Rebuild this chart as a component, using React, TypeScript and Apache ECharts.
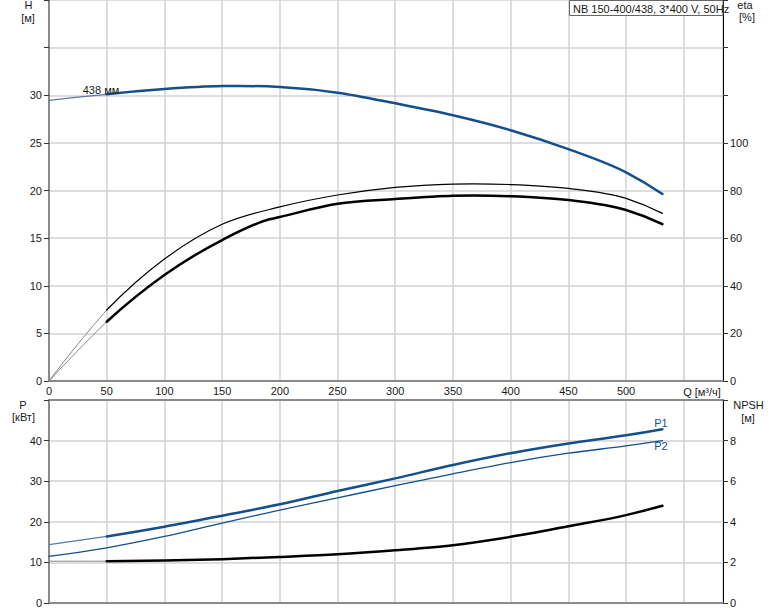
import React, { useEffect, useRef } from "react";
import * as echarts from "echarts";

// ---- data ----
const Q_START = [0, 25, 50];
const H_START = [29.47, 29.8, 30.1];
const Q_MAIN = [50, 100, 150, 200, 250, 300, 350, 400, 450, 500, 531.5];
const H_MAIN = [30.1, 30.65, 30.96, 30.86, 30.27, 29.15, 27.9, 26.33, 24.34, 21.9, 19.63];

const ETA_THIN_START = [0, 15.5, 29.8];
const ETA_THIN_MAIN = [29.8, 51.2, 65.8, 73.1, 78.1, 81.3, 82.7, 82.5, 80.9, 76.7, 70.4];
const ETA_THICK_START = [0, 12.8, 24.9];
const Q_ETA_THICK = [50, 100, 150, 191, 200, 250, 300, 350, 400, 450, 500, 531.5];
const ETA_THICK_MAIN = [24.9, 44.5, 59.2, 67.9, 68.9, 74.4, 76.4, 77.8, 77.6, 76, 71.8, 65.9];

const Q_P = [0, 50, 100, 150, 200, 250, 300, 350, 400, 450, 500, 531.5];
const P1 = [14.4, 16.4, 18.8, 21.5, 24.3, 27.6, 30.7, 34.0, 36.9, 39.3, 41.3, 42.8];
const P2 = [11.5, 13.6, 16.4, 19.7, 22.9, 25.9, 28.9, 31.8, 34.6, 36.9, 38.7, 40.0];
const NPSH_START = [2.06, 2.06, 2.06];
const NPSH_MAIN = [2.06, 2.09, 2.16, 2.27, 2.4, 2.6, 2.85, 3.26, 3.78, 4.33, 4.79];

const TITLE = "NB 150-400/438, 3*400 V, 50Hz";

const BLUE = "#134f8c";
const GRID = "#d2d2d2";
const AXIS_GRAY = "#8a8a8a";
const TXT = "#1a1a1a";
const FONT = "Liberation Sans, Arial, sans-serif";

// Cubic Hermite path through pixel points (slopes from 3-point parabolas)
function splinePath(pts: number[][]): string {
  const n = pts.length;
  if (n < 2) return "";
  const h: number[] = [];
  const d: number[] = [];
  for (let i = 0; i < n - 1; i++) {
    h.push(pts[i + 1][0] - pts[i][0]);
    d.push((pts[i + 1][1] - pts[i][1]) / (pts[i + 1][0] - pts[i][0]));
  }
  const m: number[] = new Array(n);
  if (n === 2) {
    m[0] = d[0];
    m[1] = d[0];
  } else {
    for (let i = 1; i < n - 1; i++) {
      m[i] = (d[i - 1] * h[i] + d[i] * h[i - 1]) / (h[i - 1] + h[i]);
    }
    m[0] = d[0] + ((d[0] - d[1]) * h[0]) / (h[0] + h[1]);
    m[n - 1] = d[n - 2] + ((d[n - 2] - d[n - 3]) * h[n - 2]) / (h[n - 2] + h[n - 3]);
  }
  let s = `M${pts[0][0]},${pts[0][1]}`;
  for (let i = 0; i < n - 1; i++) {
    const [x0, y0] = pts[i];
    const [x1, y1] = pts[i + 1];
    const dx = (x1 - x0) / 3;
    s += ` C${x0 + dx},${y0 + m[i] * dx} ${x1 - dx},${y1 - m[i + 1] * dx} ${x1},${y1}`;
  }
  return s;
}

export default function App() {
  const ref = useRef<HTMLDivElement>(null);
  useEffect(() => {
    if (!ref.current) return;
    const chart = echarts.init(ref.current, undefined, { renderer: "svg" });
    const lbl = { fontSize: 11, color: TXT, fontFamily: FONT };
    const xBase = (gi: number, showLabel: boolean) => ({
      type: "value",
      gridIndex: gi,
      min: 0,
      max: 584,
      interval: 50,
      axisLine: { show: true, onZero: false, lineStyle: { color: AXIS_GRAY, width: 2 } },
      axisTick: { show: false },
      axisLabel: {
        show: showLabel,
        ...lbl,
        margin: 4,
        formatter: (v: number) => (v <= 500 ? String(v) : ""),
      },
      splitLine: { show: true, lineStyle: { color: GRID, width: 1.5 } },
    });
    const yLeft = (gi: number, max: number, interval: number, lim: number) => ({
      type: "value",
      gridIndex: gi,
      position: "left",
      min: 0,
      max,
      interval,
      axisLine: { show: true, onZero: false, lineStyle: { color: AXIS_GRAY, width: 2 } },
      axisTick: { show: true, length: 5, lineStyle: { color: "#333" } },
      axisLabel: { ...lbl, margin: 7, formatter: (v: number) => (v <= lim ? String(v) : "") },
      splitLine: { show: true, lineStyle: { color: GRID, width: 1.5 } },
    });
    const yRight = (gi: number, max: number, interval: number, lim: number) => ({
      type: "value",
      gridIndex: gi,
      position: "right",
      min: 0,
      max,
      interval,
      axisLine: { show: true, onZero: false, lineStyle: { color: "#000", width: 1 } },
      axisTick: { show: true, length: 5, lineStyle: { color: "#333" } },
      axisLabel: { ...lbl, margin: 7, formatter: (v: number) => (v <= lim ? String(v) : "") },
      splitLine: { show: false },
    });
    const curve = (
      xs: number[],
      ys: number[],
      xi: number,
      yi: number,
      color: string,
      width: number
    ) => ({
      type: "custom",
      coordinateSystem: "cartesian2d",
      xAxisIndex: xi,
      yAxisIndex: yi,
      data: xs.map((x, i) => [x, ys[i]]),
      encode: { x: 0, y: 1 },
      silent: true,
      renderItem: (params: any, api: any) => {
        if (params.dataIndex !== 0) return { type: "group", children: [] };
        const pts = xs.map((x, i) => api.coord([x, ys[i]]));
        return {
          type: "path",
          shape: { pathData: splinePath(pts) },
          style: { fill: "none", stroke: color, lineWidth: width, lineCap: "round", lineJoin: "round" },
          silent: true,
        };
      },
    });

    chart.setOption({
      animation: false,
      textStyle: { fontFamily: FONT },
      grid: [
        { left: 49, right: 51, top: 0, height: 381 },
        { left: 49, right: 51, top: 400, height: 203 },
      ],
      xAxis: [
        xBase(0, true),
        xBase(1, false),
        {
          type: "value",
          gridIndex: 1,
          position: "top",
          min: 0,
          max: 584,
          axisLine: { show: true, onZero: false, lineStyle: { color: AXIS_GRAY, width: 2 } },
          axisTick: { show: false },
          axisLabel: { show: false },
          splitLine: { show: false },
        },
      ],
      yAxis: [
        yLeft(0, 40, 5, 30),
        yRight(0, 160, 20, 100),
        yLeft(1, 50, 10, 40),
        yRight(1, 10, 2, 8),
      ],
      series: [
        curve(Q_START, ETA_THIN_START, 0, 1, "#888", 1),
        curve(Q_MAIN, ETA_THIN_MAIN, 0, 1, "#000", 1.2),
        curve(Q_START, ETA_THICK_START, 0, 1, "#888", 1),
        curve(Q_ETA_THICK, ETA_THICK_MAIN, 0, 1, "#000", 2.5),
        curve(Q_START, H_START, 0, 0, "#5a7aa0", 1.2),
        curve(Q_MAIN, H_MAIN, 0, 0, BLUE, 2.5),
        curve(Q_START, NPSH_START, 1, 3, "#888", 1),
        curve(Q_MAIN, NPSH_MAIN, 1, 3, "#000", 2.5),
        curve(Q_P, P2, 1, 2, BLUE, 1.3),
        curve(Q_P.slice(0, 2), P1.slice(0, 2), 1, 2, "#5a7aa0", 1.2),
        curve(Q_P.slice(1), P1.slice(1), 1, 2, BLUE, 2.5),
      ],
      graphic: [
        {
          type: "rect",
          shape: { x: 569.5, y: 0.5, width: 153.5, height: 15 },
          style: { fill: "#fff", stroke: "#666", lineWidth: 1 },
          z: 100,
        },
        {
          type: "text",
          x: 573,
          y: 8.5,
          style: { text: TITLE, fontSize: 11, fill: TXT, fontFamily: FONT, verticalAlign: "middle" },
          z: 101,
        },
        { type: "text", x: 28.5, y: 5, style: { text: "H", fontSize: 11, fill: TXT, fontFamily: FONT, align: "center", verticalAlign: "middle" } },
        { type: "text", x: 28, y: 17.5, style: { text: "[м]", fontSize: 11, fill: TXT, fontFamily: FONT, align: "center", verticalAlign: "middle" } },
        { type: "text", x: 745, y: 5, style: { text: "eta", fontSize: 11, fill: TXT, fontFamily: FONT, align: "center", verticalAlign: "middle" } },
        { type: "text", x: 747, y: 17, style: { text: "[%]", fontSize: 11, fill: TXT, fontFamily: FONT, align: "center", verticalAlign: "middle" } },
        { type: "text", x: 702, y: 391.5, style: { text: "Q [м³/ч]", fontSize: 11, fill: TXT, fontFamily: FONT, align: "center", verticalAlign: "middle" } },
        { type: "text", x: 23, y: 405, style: { text: "P", fontSize: 11, fill: TXT, fontFamily: FONT, align: "center", verticalAlign: "middle" } },
        { type: "text", x: 23.5, y: 417, style: { text: "[кВт]", fontSize: 11, fill: TXT, fontFamily: FONT, align: "center", verticalAlign: "middle" } },
        { type: "text", x: 748.5, y: 405, style: { text: "NPSH", fontSize: 11, fill: TXT, fontFamily: FONT, align: "center", verticalAlign: "middle" } },
        { type: "text", x: 748, y: 417.5, style: { text: "[м]", fontSize: 11, fill: TXT, fontFamily: FONT, align: "center", verticalAlign: "middle" } },
        { type: "text", x: 101, y: 89.5, style: { text: "438 мм", fontSize: 11, fill: TXT, fontFamily: FONT, align: "center", verticalAlign: "middle" }, z: 50 },
        { type: "text", x: 661, y: 422.5, style: { text: "P1", fontSize: 11, fill: BLUE, fontFamily: FONT, align: "center", verticalAlign: "middle" } },
        { type: "text", x: 661, y: 446, style: { text: "P2", fontSize: 11, fill: BLUE, fontFamily: FONT, align: "center", verticalAlign: "middle" } },
      ],
    });
    return () => chart.dispose();
  }, []);
  return (
    <div
      ref={ref}
      style={{ position: "fixed", left: 0, top: 0, width: 774, height: 611, background: "#fff" }}
    />
  );
}
